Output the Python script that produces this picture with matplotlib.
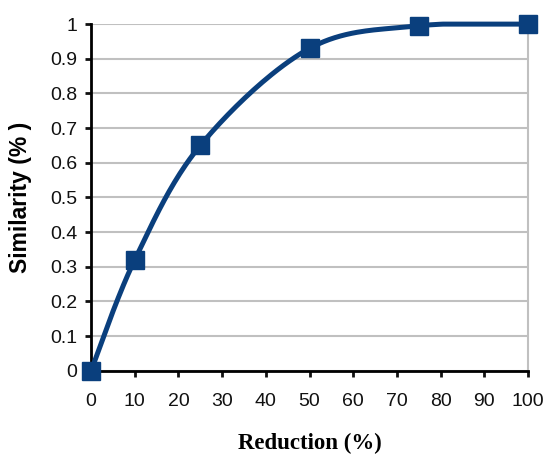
import numpy as np
import matplotlib.pyplot as plt

reduction = [0, 10, 25, 50, 75, 100]
similarity = [0.0, 0.32, 0.65, 0.93, 0.995, 1.0]


def excel_smooth(x, y, n=40):
    # bezier smoothing like the spreadsheet "smoothed line" option
    x = np.asarray(x, float)
    y = np.asarray(y, float)
    px, py = [], []
    for i in range(len(x) - 1):
        x0, y0 = (x[i - 1], y[i - 1]) if i > 0 else (x[i], y[i])
        x3, y3 = (x[i + 2], y[i + 2]) if i + 2 < len(x) else (x[i + 1], y[i + 1])
        c1x = x[i] + (x[i + 1] - x0) / 6
        c1y = y[i] + (y[i + 1] - y0) / 6
        c2x = x[i + 1] - (x3 - x[i]) / 6
        c2y = y[i + 1] - (y3 - y[i]) / 6
        t = np.linspace(0, 1, n)
        b0, b1, b2, b3 = (1 - t) ** 3, 3 * t * (1 - t) ** 2, 3 * t ** 2 * (1 - t), t ** 3
        px.extend(b0 * x[i] + b1 * c1x + b2 * c2x + b3 * x[i + 1])
        py.extend(b0 * y[i] + b1 * c1y + b2 * c2y + b3 * y[i + 1])
    return np.array(px), np.array(py)


plt.rcParams['font.family'] = ['Liberation Sans', 'DejaVu Sans']

fig = plt.figure(figsize=(5.45, 4.55), dpi=100)
ax = fig.add_axes([0.167, 0.185, 0.802, 0.762])

navy = '#0a3f7d'
sx, sy = excel_smooth(reduction, similarity)
ax.plot(sx, np.minimum(sy, 1.0), color=navy, lw=3.6, clip_on=False, zorder=3)
ax.plot(reduction, similarity, 's', color=navy, markersize=12.5, clip_on=False, zorder=4)

ax.set_xlim(0, 100)
ax.set_ylim(0, 1)
ax.set_xticks(np.arange(0, 101, 10))
ax.set_yticks(np.arange(0, 1.01, 0.1))
ax.set_yticklabels(['0', '0.1', '0.2', '0.3', '0.4', '0.5', '0.6', '0.7', '0.8', '0.9', '1'])
ax.tick_params(labelsize=14, width=2, length=4, direction='out', colors='#111111')
ax.tick_params(axis='x', pad=12)
ax.tick_params(axis='y', pad=6)

ax.grid(axis='y', color='#c0c0c0', lw=1.5)
ax.set_axisbelow(True)
ax.spines['top'].set_visible(False)
ax.spines['right'].set_color('#c0c0c0')
ax.spines['right'].set_linewidth(1.5)
ax.spines['left'].set_linewidth(2)
ax.spines['bottom'].set_linewidth(2)

ax.set_xlabel('Reduction (%)', fontsize=16.5, fontweight='bold', family='Liberation Serif')
ax.set_ylabel('Similarity (% )', fontsize=16.5, fontweight='bold')
ax.xaxis.set_label_coords(0.5, -0.18)
ax.yaxis.set_label_coords(-0.135, 0.5)

fig.savefig('out.png', dpi=100)
